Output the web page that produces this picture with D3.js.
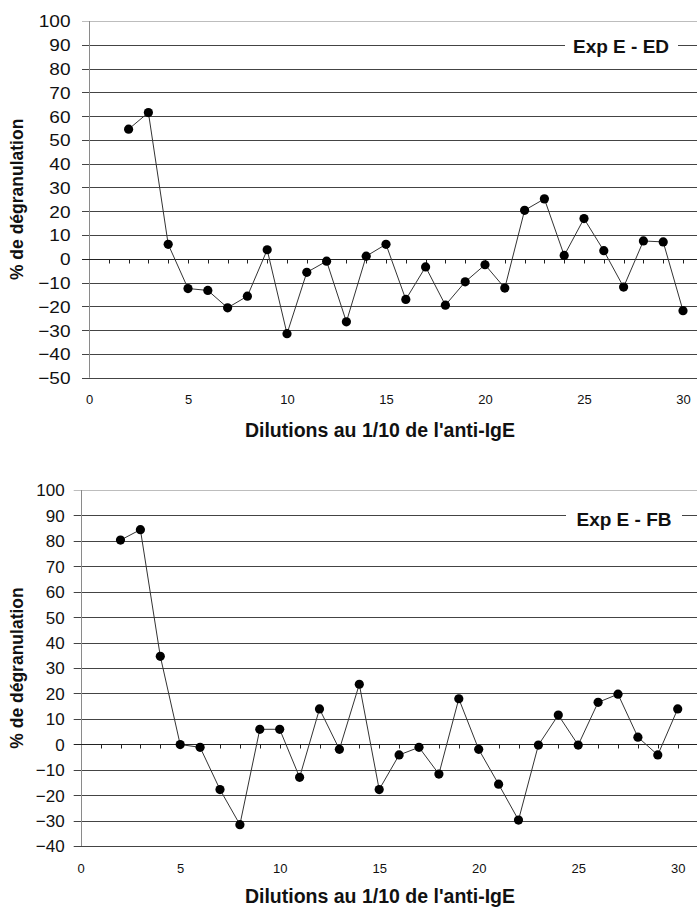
<!DOCTYPE html>
<html>
<head>
<meta charset="utf-8">
<script src="https://cdn.jsdelivr.net/npm/d3@7"></script>
<style>
  body { margin: 0; background: #fff; }
  svg { display: block; font-family: "Liberation Sans", Arial, sans-serif; }
</style>
</head>
<body>
<svg id="chart" width="697" height="907"></svg>
<script>
// Dilution index (x) and degranulation percentage (y) for both experiments
const dilutions = [2, 3, 4, 5, 6, 7, 8, 9, 10, 11, 12, 13, 14, 15, 16, 17, 18, 19, 20,
                   21, 22, 23, 24, 25, 26, 27, 28, 29, 30];
const degranED = [54.5, 61.5, 6.1, -12.5, -13.3, -20.6, -15.7, 3.8, -31.5, -5.7, -1.0, -26.5,
                  1.1, 6.1, -17.1, -3.4, -19.5, -9.7, -2.5, -12.3, 20.4, 25.2, 1.4, 16.9,
                  3.4, -11.9, 7.5, 7.1, -21.8];
const degranFB = [80.3, 84.4, 34.6, -0.1, -1.2, -17.8, -31.6, 5.9, 5.9, -13.0, 13.9, -2.0,
                  23.6, -17.8, -4.2, -1.2, -11.7, 17.9, -2.0, -15.7, -29.8, -0.3, 11.5, -0.3,
                  16.5, 19.7, 2.8, -4.2, 13.9];

const xTickLabels = [0, 5, 10, 15, 20, 25, 30];
const yTicksED = [100, 90, 80, 70, 60, 50, 40, 30, 20, 10, 0, -10, -20, -30, -40, -50];
const yTicksFB = [100, 90, 80, 70, 60, 50, 40, 30, 20, 10, 0, -10, -20, -30, -40];

const xTitle = "Dilutions au 1/10 de l'anti-IgE";
const yTitle = "% de dégranulation";

const panels = [
  { label: "Exp E - ED", values: degranED, yTicks: yTicksED,
    left: 89, x30: 683, right: 697, top: 21, bottom: 377.7,
    yLabelGap: 18.5, yLabelStretch: 1.12, xLabelY: 404, xTitleY: 437, yTitleX: 23,
    labelX: 621, labelY: 52.5, labelGap: [565, 678] },
  { label: "Exp E - FB", values: degranFB, yTicks: yTicksFB,
    left: 80.7, x30: 677.7, right: 697, top: 490, bottom: 846,
    yLabelGap: 16, yLabelStretch: 1.0, xLabelY: 873, xTitleY: 903, yTitleX: 23,
    labelX: 624, labelY: 526, labelGap: [566, 682] }
];

const svg = d3.select("#chart");

panels.forEach(p => {
  const yMin = d3.min(p.yTicks), yMax = d3.max(p.yTicks);
  const x = d3.scaleLinear().domain([0, 30]).range([p.left, p.x30]);
  const y = d3.scaleLinear().domain([yMin, yMax]).range([p.bottom, p.top]);
  const g = svg.append("g");

  // horizontal gridlines (with short outer ticks left of the axis)
  g.append("g").selectAll("line")
    .data(p.yTicks.filter(v => v !== 0))
    .join("line")
    .attr("x1", p.left - 7).attr("x2", p.right)
    .attr("y1", d => Math.round(y(d)) + 0.5).attr("y2", d => Math.round(y(d)) + 0.5)
    .attr("stroke", d => d === yMax ? "#bdbdbd" : "#444")
    .attr("stroke-width", 1);

  // vertical value axis
  g.append("line")
    .attr("x1", Math.round(p.left) + 0.5).attr("x2", Math.round(p.left) + 0.5)
    .attr("y1", y(yMax)).attr("y2", y(yMin))
    .attr("stroke", "#8a8a8a").attr("stroke-width", 1);

  // y tick labels
  const yAxis = d3.axisLeft(y).tickValues(p.yTicks).tickSize(0).tickPadding(0)
    .tickFormat(d3.format("d"));
  const ya = g.append("g").attr("transform", `translate(${p.left - p.yLabelGap},0)`).call(yAxis);
  ya.select(".domain").remove();
  ya.selectAll("text")
    .attr("font-size", 17).attr("fill", "#111")
    .attr("font-family", "'Liberation Sans', Arial, sans-serif")
    .attr("transform", `scale(${p.yLabelStretch},1)`)
    .attr("x", 0);
  ya.selectAll(".tick").each(function() {
    const t = d3.select(this);
    const tr = t.attr("transform");
    const ty = +tr.match(/,([-\d.]+)\)/)[1];
    t.attr("transform", `translate(0,${ty + 0.5})`);
  });

  // zero line with a tick at every dilution step
  const zy = Math.round(y(0)) + 0.5;
  g.append("line")
    .attr("x1", p.left - 7).attr("x2", p.right)
    .attr("y1", zy).attr("y2", zy)
    .attr("stroke", "#222").attr("stroke-width", 1);
  g.append("g").selectAll("line")
    .data(x.ticks(30).filter(v => v > 0))
    .join("line")
    .attr("x1", d => Math.round(x(d)) + 0.5).attr("x2", d => Math.round(x(d)) + 0.5)
    .attr("y1", zy).attr("y2", zy + 4)
    .attr("stroke", "#222").attr("stroke-width", 1);

  // x tick labels along the bottom
  const xAxis = d3.axisBottom(x).tickValues(xTickLabels).tickSize(0).tickPadding(0);
  const xa = g.append("g").attr("transform", `translate(0,${p.xLabelY})`).call(xAxis);
  xa.select(".domain").remove();
  xa.selectAll("text")
    .attr("font-size", 13).attr("fill", "#111").attr("dy", 0).attr("y", 0)
    .attr("font-family", "'Liberation Sans', Arial, sans-serif");

  // axis titles
  g.append("text")
    .attr("x", 380).attr("y", p.xTitleY)
    .attr("text-anchor", "middle").attr("font-weight", "bold").attr("font-size", 19.5)
    .attr("fill", "#111")
    .text(xTitle);
  g.append("text")
    .attr("transform", `translate(${p.yTitleX},${(p.top + p.bottom) / 2}) rotate(-90)`)
    .attr("text-anchor", "middle").attr("font-weight", "bold").attr("font-size", 17.5)
    .attr("fill", "#111")
    .text(yTitle);

  // series line and markers
  const line = d3.line().x((d, i) => x(dilutions[i])).y(d => y(d));
  g.append("path")
    .datum(p.values)
    .attr("d", line)
    .attr("fill", "none").attr("stroke", "#333").attr("stroke-width", 1);
  g.append("g").selectAll("circle")
    .data(p.values)
    .join("circle")
    .attr("cx", (d, i) => x(dilutions[i])).attr("cy", d => y(d))
    .attr("r", 4.6).attr("fill", "#000");

  // experiment label over a white patch in the gridline
  g.append("rect")
    .attr("x", p.labelGap[0]).attr("y", p.labelY - 18)
    .attr("width", p.labelGap[1] - p.labelGap[0]).attr("height", 24)
    .attr("fill", "#fff");
  g.append("text")
    .attr("x", p.labelX).attr("y", p.labelY)
    .attr("text-anchor", "middle").attr("font-weight", "bold").attr("font-size", 19)
    .attr("fill", "#111")
    .text(p.label);
});
</script>
</body>
</html>
